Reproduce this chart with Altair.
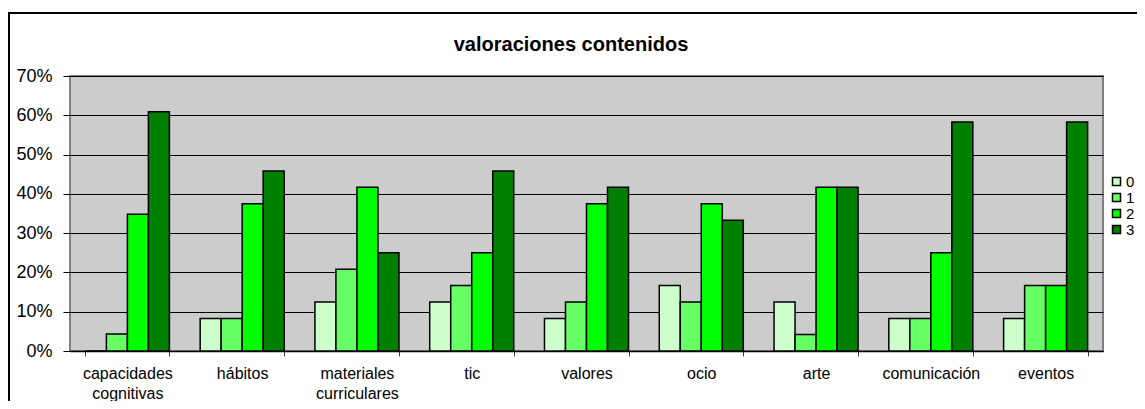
import altair as alt
import pandas as pd

title_text = ["valoraciones contenidos"]
categories = ["capacidades cognitivas", "hábitos", "materiales curriculares", "tic",
              "valores", "ocio", "arte", "comunicación", "eventos"]
series = ["0", "1", "2", "3"]
s0 = [0.0, 8.3, 12.5, 12.5, 8.3, 16.7, 12.5, 8.3, 8.3]
s1 = [4.3, 8.3, 20.8, 16.7, 12.5, 12.5, 4.2, 8.3, 16.7]
s2 = [34.8, 37.5, 41.7, 25.0, 37.5, 37.5, 41.7, 25.0, 16.7]
s3 = [60.9, 45.8, 25.0, 45.8, 41.7, 33.3, 41.7, 58.3, 58.3]
colors = ["#CCFFCC", "#66FF66", "#00FF00", "#008000"]

rows = []
for name, vals in zip(series, [s0, s1, s2, s3]):
    for c, v in zip(categories, vals):
        rows.append({"categoria": c, "serie": name, "valor": v / 100.0})
df = pd.DataFrame(rows)

W, H = 1033, 275
FONT = "Liberation Sans, Arial, Helvetica, sans-serif"

frame = alt.Chart(pd.DataFrame({"k": [0]})).mark_rect(
    fillOpacity=0, stroke="black", strokeWidth=2
).encode(
    x=alt.value(-61), x2=alt.value(W + 200),
    y=alt.value(-63), y2=alt.value(H + 200)
)

title = alt.Chart(pd.DataFrame({"t": title_text})).mark_text(
    font=FONT, fontSize=20, fontWeight="bold", color="black",
    align="center", baseline="alphabetic"
).encode(
    text="t:N", x=alt.value(501), y=alt.value(-25)
)

bars = alt.Chart(df).mark_bar(stroke="black", strokeWidth=1.5, opacity=1).encode(
    x=alt.X("categoria:N", sort=categories, title=None,
            scale=alt.Scale(paddingInner=0.268, paddingOuter=0.134),
            axis=alt.Axis(labelAngle=0, tickBand="extent", tickSize=5,
                          tickColor="#404040", domainColor="black", domainWidth=1.5,
                          labelFont=FONT, labelFontSize=16, labelColor="black",
                          labelPadding=9, labelLineHeight=20,
                          labelExpr="split(datum.label, ' ')")),
    xOffset=alt.XOffset("serie:N", sort=series,
                        scale=alt.Scale(paddingInner=0, paddingOuter=0)),
    y=alt.Y("valor:Q", title=None,
            scale=alt.Scale(domain=[0, 0.7], nice=False),
            axis=alt.Axis(format=".0%", values=[0, 0.1, 0.2, 0.3, 0.4, 0.5, 0.6, 0.7],
                          grid=True, gridColor="black", gridWidth=1,
                          domain=False, tickSize=7, tickColor="black",
                          labelFont=FONT, labelFontSize=18, labelColor="black",
                          labelPadding=11)),
    color=alt.Color("serie:N", sort=series, title=None,
                    scale=alt.Scale(domain=series, range=colors),
                    legend=alt.Legend(orient="none", legendX=1039, legendY=98,
                                      symbolType="square", symbolSize=64,
                                      symbolStrokeColor="black", symbolStrokeWidth=1.5,
                                      symbolOpacity=1,
                                      labelFont=FONT, labelFontSize=15,
                                      labelColor="black", rowPadding=0,
                                      labelOffset=2))
)

chart = alt.layer(frame, bars, title).properties(
    width=W, height=H,
    autosize=alt.AutoSizeParams(type="none"),
    padding={"left": 62, "top": 68, "right": 34, "bottom": 50},
    background="white"
).configure_view(
    fill="#CCCCCC", stroke="#808080", strokeWidth=2
)

chart.save("out.html", embed_options={"renderer": "svg", "actions": False})
